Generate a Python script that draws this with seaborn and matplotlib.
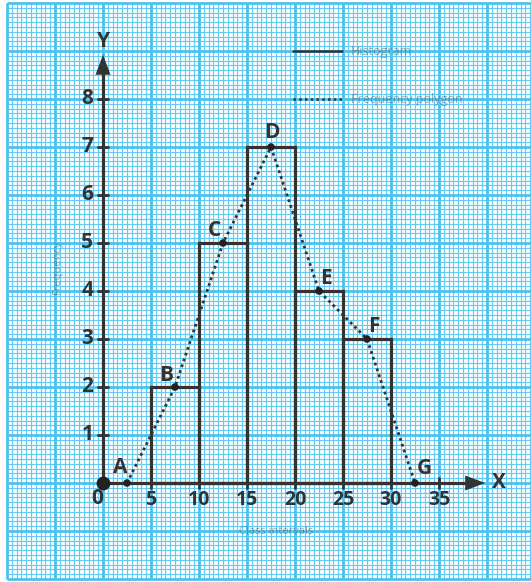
import numpy as np
import pandas as pd
import matplotlib
matplotlib.use("Agg")
import matplotlib.pyplot as plt
import seaborn as sns

# Class intervals and frequencies
class_edges = [5, 10, 15, 20, 25, 30]
class_marks = [7.5, 12.5, 17.5, 22.5, 27.5]
frequencies = [2, 5, 7, 4, 3]

# Frequency polygon vertices (closed at the neighbouring empty classes)
poly_labels = ["A", "B", "C", "D", "E", "F", "G"]
poly_x = [2.5, 7.5, 12.5, 17.5, 22.5, 27.5, 32.5]
poly_y = [0, 2, 5, 7, 4, 3, 0]

x_ticks = [5, 10, 15, 20, 25, 30, 35]
y_ticks = [1, 2, 3, 4, 5, 6, 7, 8]

sns.set_theme(style="white")
plt.rcParams["font.family"] = ["Open Sans", "DejaVu Sans"]

INK = "#333333"
FW = "bold"
fig = plt.figure(figsize=(5.31, 5.82), dpi=100)
ax = fig.add_axes([0, 0, 1, 1])
ax.axis("off")

# Graph paper
gx0, gy0, gy1 = -10, -2, 10
minor_x = np.arange(gx0, 45.01, 0.5)
minor_y = np.arange(gy0, gy1 + 0.001, 0.1)
ax.vlines(minor_x, gy0, gy1, color="#66caf2", lw=0.85, zorder=0)
ax.hlines(minor_y, gx0, 46, color="#66caf2", lw=0.85, zorder=0)
major_x = np.arange(gx0, 45.01, 5)
major_y = np.arange(gy0, gy1 + 0.001, 1)
ax.vlines(major_x, gy0, gy1, color="#4cc2ef", lw=2.0, zorder=0.5)
ax.hlines(major_y, gx0, 46, color="#4cc2ef", lw=2.0, zorder=0.5)

# Histogram
hist_df = pd.DataFrame({"mark": class_marks, "freq": frequencies})
sns.histplot(data=hist_df, x="mark", weights="freq", bins=class_edges,
             fill=False, element="bars", color=INK, linewidth=2.3, ax=ax,
             zorder=3)

# Frequency polygon
poly_df = pd.DataFrame({"x": poly_x, "y": poly_y})
sns.lineplot(data=poly_df, x="x", y="y", color=INK, linestyle=(0, (1, 1.2)),
             linewidth=2.0, ax=ax, zorder=4)
sns.scatterplot(data=poly_df, x="x", y="y", color="#222222", s=30,
                edgecolor="none", ax=ax, zorder=6)

ax.set_xlim(-103 / 9.6, (531 - 103) / 9.6)
ax.set_ylim((483 - 582) / 48, 483 / 48)
ax.axis("off")

# Axes with arrows
ax.plot([0, 38.6], [0, 0], color=INK, lw=2.3, zorder=5, solid_capstyle="butt")
ax.plot([0, 0], [0, 8.6], color=INK, lw=2.3, zorder=5, solid_capstyle="butt")
ax.annotate("", xy=(40.1, 0), xytext=(38.0, 0),
            arrowprops=dict(arrowstyle="-|>,head_length=1.2,head_width=0.45",
                            color=INK, lw=0), zorder=6)
ax.annotate("", xy=(0, 8.98), xytext=(0, 8.55),
            arrowprops=dict(arrowstyle="-|>,head_length=1.2,head_width=0.45",
                            color=INK, lw=0), zorder=6)
ax.plot([0], [0], "o", color="#222222", ms=9, zorder=7)

# Tick stubs and labels
for xv in x_ticks:
    ax.plot([xv, xv], [-0.1, 0.1], color=INK, lw=2.0, zorder=5)
    ax.text(xv, -0.36, str(xv), ha="center", va="center", fontsize=14,
            fontweight=FW, color=INK)
for yv in y_ticks:
    ax.plot([-0.52, 0.52], [yv, yv], color=INK, lw=2.0, zorder=5)
    ax.text(-1.0, yv, str(yv), ha="right", va="center", fontsize=15,
            fontweight=FW, color=INK)
ax.text(-0.65, -0.33, "0", ha="center", va="center", fontsize=15,
        fontweight=FW, color=INK)
ax.text(40.5, 0.0, "X", ha="left", va="center", fontsize=15,
        fontweight=FW, color=INK)
ax.text(0.0, 9.2, "Y", ha="center", va="center", fontsize=15,
        fontweight=FW, color=INK)

# Vertex labels
label_offsets = {"A": (-0.75, 0.33), "B": (-0.9, 0.23), "C": (-0.9, 0.25),
                 "D": (0.1, 0.3), "E": (0.75, 0.25), "F": (0.75, 0.25),
                 "G": (0.95, 0.3)}
for lab, xv, yv in zip(poly_labels, poly_x, poly_y):
    dx, dy = label_offsets[lab]
    ax.text(xv + dx, yv + dy, lab, ha="center", va="center", fontsize=15,
            fontweight=FW, color=INK, zorder=8)

# Key
ax.plot([19.8, 24.9], [9.0, 9.0], color=INK, lw=1.8)
ax.plot([19.8, 24.9], [8.0, 8.0], color=INK, lw=1.8, linestyle=(0, (1, 1.3)))
ax.text(25.8, 9.0, "Histogram", ha="left", va="center", fontsize=9,
        color="#555555", alpha=0.5)
ax.text(25.8, 8.0, "Frequency polygon", ha="left", va="center", fontsize=9,
        color="#555555", alpha=0.5)
ax.text(-4.8, 4.5, "Frequency", rotation=90, ha="center", va="center",
        fontsize=8, color="#555555", alpha=0.5)
ax.text(18.0, -1.0, "Class intervals", ha="center", va="center",
        fontsize=8, color="#555555", alpha=0.5)

fig.savefig("out.png", dpi=100, facecolor="white")
